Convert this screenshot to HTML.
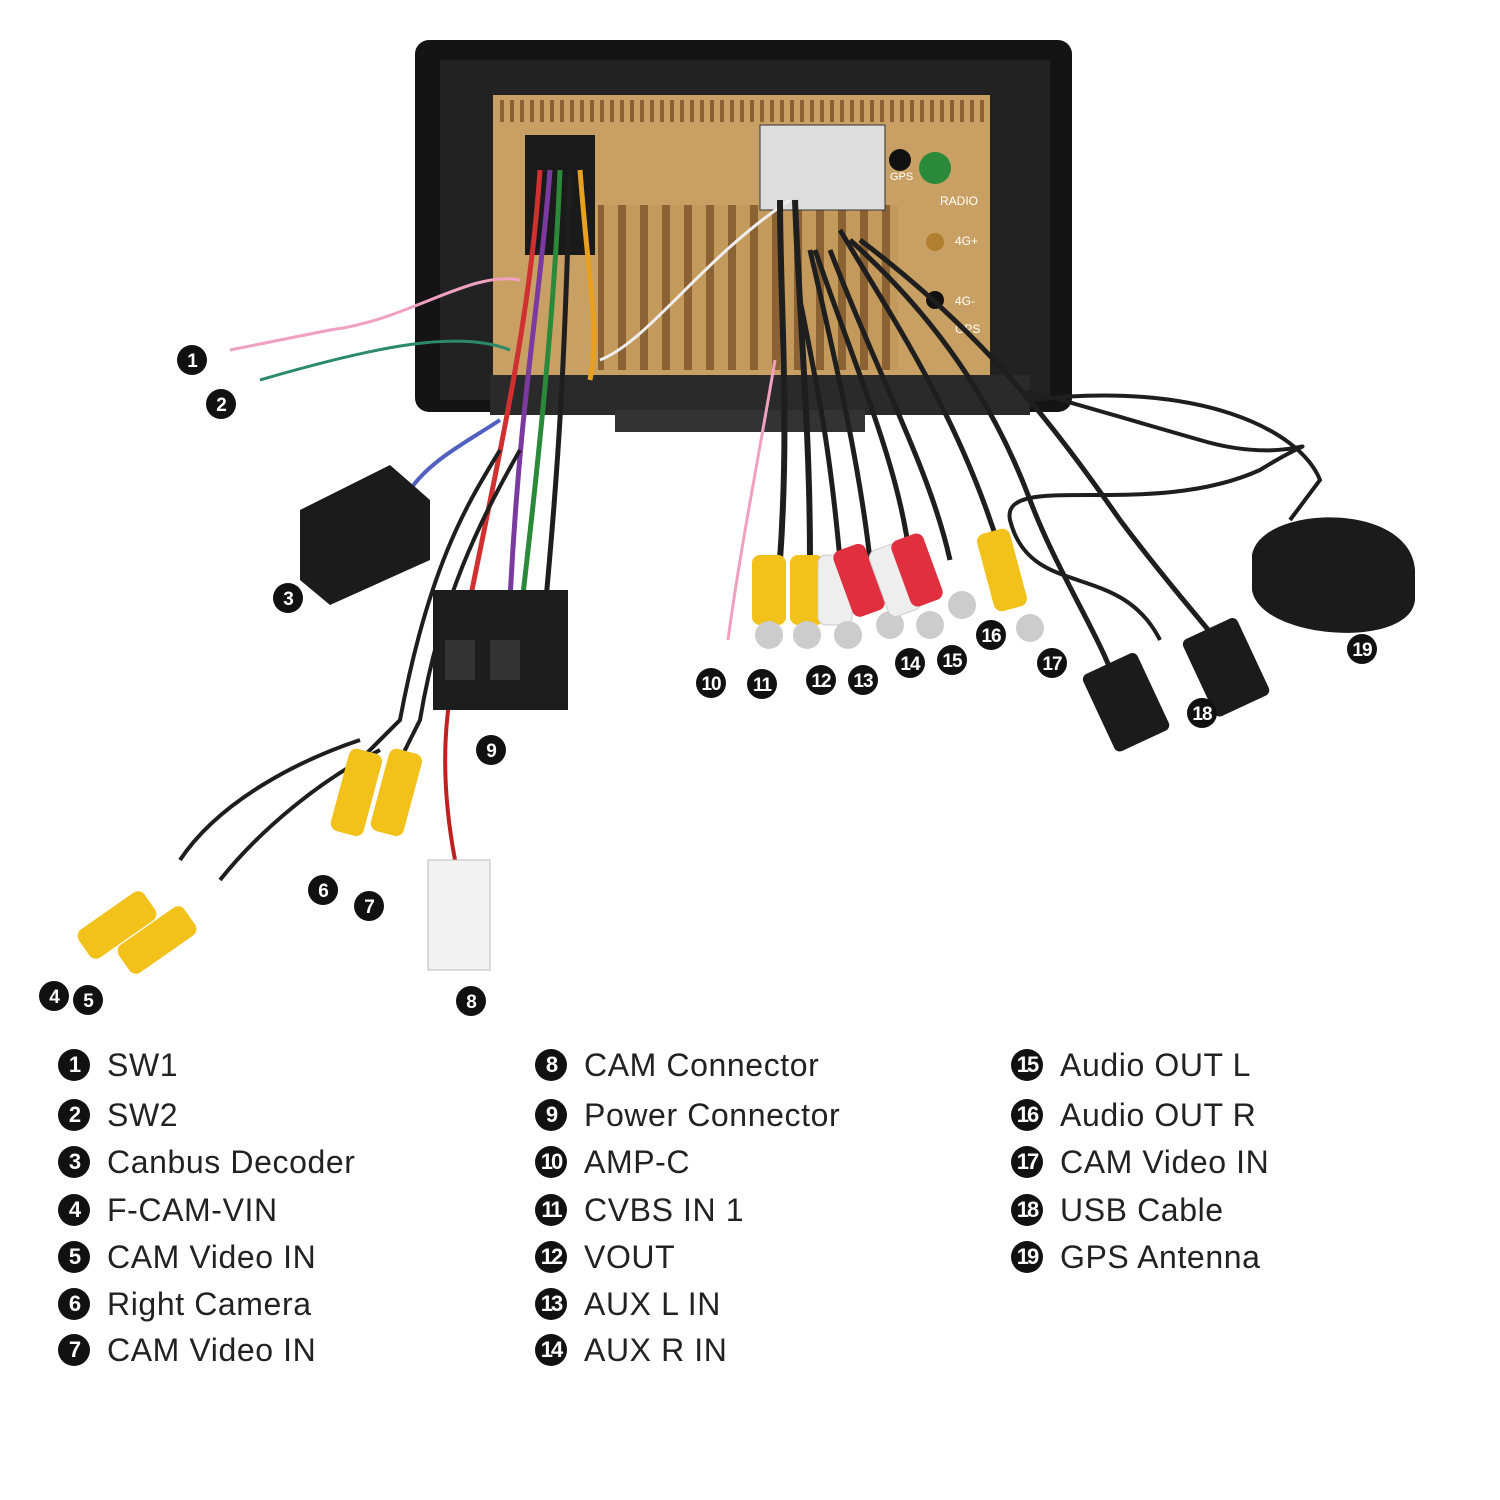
<!DOCTYPE html>
<html><head><meta charset="utf-8"><style>
body{margin:0;background:#fff;width:1500px;height:1500px;overflow:hidden;font-family:"Liberation Sans",sans-serif}
svg{position:absolute;left:0;top:0}
.lg{position:absolute;font-size:32px;letter-spacing:0.6px;color:#222;white-space:nowrap;line-height:36px}
.c{display:inline-block;width:32px;height:32px;border-radius:50%;background:#111;color:#fff;font-size:22px;text-align:center;line-height:32px;margin-right:17px;vertical-align:middle;position:relative;top:-3px;font-weight:bold;letter-spacing:-2px}
</style></head><body>
<svg width="1500" height="1500" viewBox="0 0 1500 1500">
<defs><pattern id="fin" width="22" height="60" patternUnits="userSpaceOnUse"><rect width="22" height="60" fill="#c49a5c"/><rect x="2" width="8" height="60" fill="#8a6234"/></pattern>
<pattern id="fin2" width="10" height="20" patternUnits="userSpaceOnUse"><rect width="10" height="20" fill="#caa064"/><rect width="4" height="20" fill="#8a6234"/></pattern></defs>
<rect x="415" y="40" width="657" height="372" rx="14" fill="#141414"/>
<rect x="440" y="60" width="610" height="340" fill="#222"/>
<rect x="493" y="95" width="497" height="280" fill="#c9a063"/>
<rect x="500" y="100" width="485" height="22" fill="url(#fin2)"/>
<rect x="598" y="205" width="300" height="165" fill="url(#fin)"/>
<rect x="525" y="135" width="70" height="120" fill="#1a1a1a"/>
<rect x="760" y="125" width="125" height="85" fill="#ddd" stroke="#333"/>
<circle cx="935" cy="168" r="16" fill="#2a8a3a"/><circle cx="900" cy="160" r="11" fill="#111"/>
<circle cx="935" cy="242" r="9" fill="#b08030"/><circle cx="935" cy="300" r="9" fill="#111"/>
<text x="890" y="180" font-size="11" fill="#fff">GPS</text><text x="940" y="205" font-size="12" fill="#fff">RADIO</text>
<text x="955" y="245" font-size="12" fill="#fff">4G+</text><text x="955" y="305" font-size="12" fill="#fff">4G-</text><text x="955" y="333" font-size="12" fill="#fff">GPS</text>
<rect x="490" y="375" width="540" height="40" fill="#2a2a2a"/>
<rect x="615" y="410" width="250" height="22" fill="#333"/>
<g fill="none" stroke-width="5">
<path d="M550 170 C540 300 520 400 510 600" stroke="#7a3aa0"/>
<path d="M560 170 C555 300 540 450 520 620" stroke="#2a8a3a"/>
<path d="M540 170 C530 320 500 450 470 600" stroke="#d03030"/>
<path d="M570 170 C565 350 560 450 545 610" stroke="#1e1e1e"/>
<path d="M580 170 C590 300 600 330 590 380" stroke="#e8a020"/>
<path d="M520 280 C470 270 410 320 330 330 L230 350" stroke="#f0a0c0" stroke-width="3"/>
<path d="M510 350 C460 330 380 345 260 380" stroke="#2a8a6a" stroke-width="3"/>
<path d="M790 200 C700 260 650 340 600 360" stroke="#eee" stroke-width="3"/>
<path d="M500 450 C470 500 430 560 400 720 L360 760" stroke="#1e1e1e" stroke-width="4"/>
<path d="M520 450 C480 520 440 600 420 720 L400 760" stroke="#1e1e1e" stroke-width="4"/>
<path d="M470 620 C440 700 440 780 455 860" stroke="#c02020" stroke-width="4"/>
<path d="M360 740 C300 760 220 800 180 860" stroke="#1e1e1e" stroke-width="4"/>
<path d="M380 750 C320 780 260 830 220 880" stroke="#1e1e1e" stroke-width="4"/>
<path d="M500 420 C470 440 430 460 410 490" stroke="#5060c0" stroke-width="4"/>
<path d="M780 200 C780 300 790 420 780 560" stroke="#1e1e1e" stroke-width="6"/>
<path d="M795 200 C800 330 810 430 810 560" stroke="#1e1e1e" stroke-width="6"/>
<path d="M800 300 C820 400 830 450 840 560" stroke="#1e1e1e" stroke-width="5"/>
<path d="M810 250 C840 380 860 470 870 560" stroke="#1e1e1e" stroke-width="5"/>
<path d="M815 250 C860 380 900 470 910 560" stroke="#1e1e1e" stroke-width="5"/>
<path d="M830 250 C880 380 930 470 950 560" stroke="#1e1e1e" stroke-width="5"/>
<path d="M840 230 C900 330 960 420 1000 550" stroke="#1e1e1e" stroke-width="5"/>
<path d="M775 360 C760 450 740 550 728 640" stroke="#f0a0c0" stroke-width="3"/>
<path d="M850 240 C950 330 1000 420 1030 500 C1060 580 1110 650 1120 700" stroke="#1e1e1e" stroke-width="5"/>
<path d="M860 240 C980 330 1050 420 1120 520 C1180 600 1220 640 1230 660" stroke="#1e1e1e" stroke-width="5"/>
<path d="M1040 400 C1000 380 1060 400 1200 440 C1300 470 1340 420 1260 470 C1150 520 1000 470 1010 520 C1030 600 1120 560 1160 640" stroke="#1e1e1e" stroke-width="4"/>
<path d="M1030 400 C1200 380 1300 430 1320 480 L1290 520" stroke="#1e1e1e" stroke-width="4"/>
</g>
<polygon points="300,510 390,465 430,500 430,560 330,605 300,580" fill="#1b1b1b"/>
<rect x="433" y="590" width="135" height="120" fill="#1d1d1d"/><rect x="445" y="640" width="30" height="40" fill="#333"/><rect x="490" y="640" width="30" height="40" fill="#333"/>
<rect x="428" y="860" width="62" height="110" fill="#f3f3f3" stroke="#bbb"/>
<g>
<rect x="752" y="555" width="34" height="70" rx="8" fill="#f2c21a"/><circle cx="769" cy="635" r="14" fill="#ccc"/>
<rect x="790" y="555" width="34" height="70" rx="8" fill="#f2c21a"/><circle cx="807" cy="635" r="14" fill="#ccc"/>
<rect x="818" y="555" width="34" height="70" rx="8" fill="#eee" stroke="#ccc"/><circle cx="848" cy="635" r="14" fill="#ccc"/>
<rect x="842" y="545" width="34" height="70" rx="8" fill="#e03040" transform="rotate(-20 860 580)"/><circle cx="890" cy="625" r="14" fill="#ccc"/>
<rect x="878" y="545" width="34" height="70" rx="8" fill="#eee" stroke="#ccc" transform="rotate(-20 895 580)"/><circle cx="930" cy="625" r="14" fill="#ccc"/>
<rect x="900" y="535" width="34" height="70" rx="8" fill="#e03040" transform="rotate(-20 917 570)"/><circle cx="962" cy="605" r="14" fill="#ccc"/>
<rect x="985" y="530" width="34" height="80" rx="8" fill="#f2c21a" transform="rotate(-15 1002 570)"/><circle cx="1030" cy="628" r="14" fill="#ccc"/>
<rect x="340" y="750" width="34" height="85" rx="8" fill="#f2c21a" transform="rotate(15 357 790)"/>
<rect x="380" y="750" width="34" height="85" rx="8" fill="#f2c21a" transform="rotate(15 397 790)"/>
<rect x="100" y="885" width="34" height="80" rx="8" fill="#f2c21a" transform="rotate(55 117 925)"/>
<rect x="140" y="900" width="34" height="80" rx="8" fill="#f2c21a" transform="rotate(55 157 940)"/>
</g>
<rect x="1095" y="660" width="60" height="85" rx="6" fill="#1b1b1b" transform="rotate(-25 1125 700)"/>
<rect x="1195" y="625" width="60" height="85" rx="6" fill="#1b1b1b" transform="rotate(-25 1225 665)"/>
<path d="M1252 555 C1260 505 1410 500 1415 570 L1415 600 C1410 650 1260 640 1252 590 Z" fill="#1b1b1b"/>
<g>
<circle cx="192" cy="360" r="15" fill="#111"/><circle cx="221" cy="404" r="15" fill="#111"/><circle cx="288" cy="598" r="15" fill="#111"/>
<circle cx="54" cy="996" r="15" fill="#111"/><circle cx="88" cy="1000" r="15" fill="#111"/><circle cx="323" cy="890" r="15" fill="#111"/>
<circle cx="369" cy="906" r="15" fill="#111"/><circle cx="471" cy="1001" r="15" fill="#111"/><circle cx="491" cy="750" r="15" fill="#111"/>
<circle cx="711" cy="683" r="15" fill="#111"/><circle cx="762" cy="684" r="15" fill="#111"/><circle cx="821" cy="680" r="15" fill="#111"/>
<circle cx="863" cy="680" r="15" fill="#111"/><circle cx="910" cy="663" r="15" fill="#111"/><circle cx="952" cy="660" r="15" fill="#111"/>
<circle cx="991" cy="635" r="15" fill="#111"/><circle cx="1052" cy="663" r="15" fill="#111"/><circle cx="1202" cy="713" r="15" fill="#111"/>
<circle cx="1362" cy="649" r="15" fill="#111"/>
</g>
<g font-family="Liberation Sans" font-size="19" font-weight="bold" fill="#fff" text-anchor="middle" letter-spacing="-1">
<text x="192" y="367">1</text><text x="221" y="411">2</text><text x="288" y="605">3</text><text x="54" y="1003">4</text><text x="88" y="1007">5</text>
<text x="323" y="897">6</text><text x="369" y="913">7</text><text x="471" y="1008">8</text><text x="491" y="757">9</text>
<text x="711" y="690">10</text><text x="762" y="691">11</text><text x="821" y="687">12</text><text x="863" y="687">13</text><text x="910" y="670">14</text>
<text x="952" y="667">15</text><text x="991" y="642">16</text><text x="1052" y="670">17</text><text x="1202" y="720">18</text><text x="1362" y="656">19</text>
</g>
</svg>
<div class="lg" style="left:58px;top:1047px"><span class="c">1</span>SW1</div>
<div class="lg" style="left:58px;top:1097px"><span class="c">2</span>SW2</div>
<div class="lg" style="left:58px;top:1144px"><span class="c">3</span>Canbus Decoder</div>
<div class="lg" style="left:58px;top:1192px"><span class="c">4</span>F-CAM-VIN</div>
<div class="lg" style="left:58px;top:1239px"><span class="c">5</span>CAM Video IN</div>
<div class="lg" style="left:58px;top:1286px"><span class="c">6</span>Right Camera</div>
<div class="lg" style="left:58px;top:1332px"><span class="c">7</span>CAM Video IN</div>
<div class="lg" style="left:535px;top:1047px"><span class="c">8</span>CAM Connector</div>
<div class="lg" style="left:535px;top:1097px"><span class="c">9</span>Power Connector</div>
<div class="lg" style="left:535px;top:1144px"><span class="c">10</span>AMP-C</div>
<div class="lg" style="left:535px;top:1192px"><span class="c">11</span>CVBS IN 1</div>
<div class="lg" style="left:535px;top:1239px"><span class="c">12</span>VOUT</div>
<div class="lg" style="left:535px;top:1286px"><span class="c">13</span>AUX L IN</div>
<div class="lg" style="left:535px;top:1332px"><span class="c">14</span>AUX R IN</div>
<div class="lg" style="left:1011px;top:1047px"><span class="c">15</span>Audio OUT L</div>
<div class="lg" style="left:1011px;top:1097px"><span class="c">16</span>Audio OUT R</div>
<div class="lg" style="left:1011px;top:1144px"><span class="c">17</span>CAM Video IN</div>
<div class="lg" style="left:1011px;top:1192px"><span class="c">18</span>USB Cable</div>
<div class="lg" style="left:1011px;top:1239px"><span class="c">19</span>GPS Antenna</div>
</body></html>
